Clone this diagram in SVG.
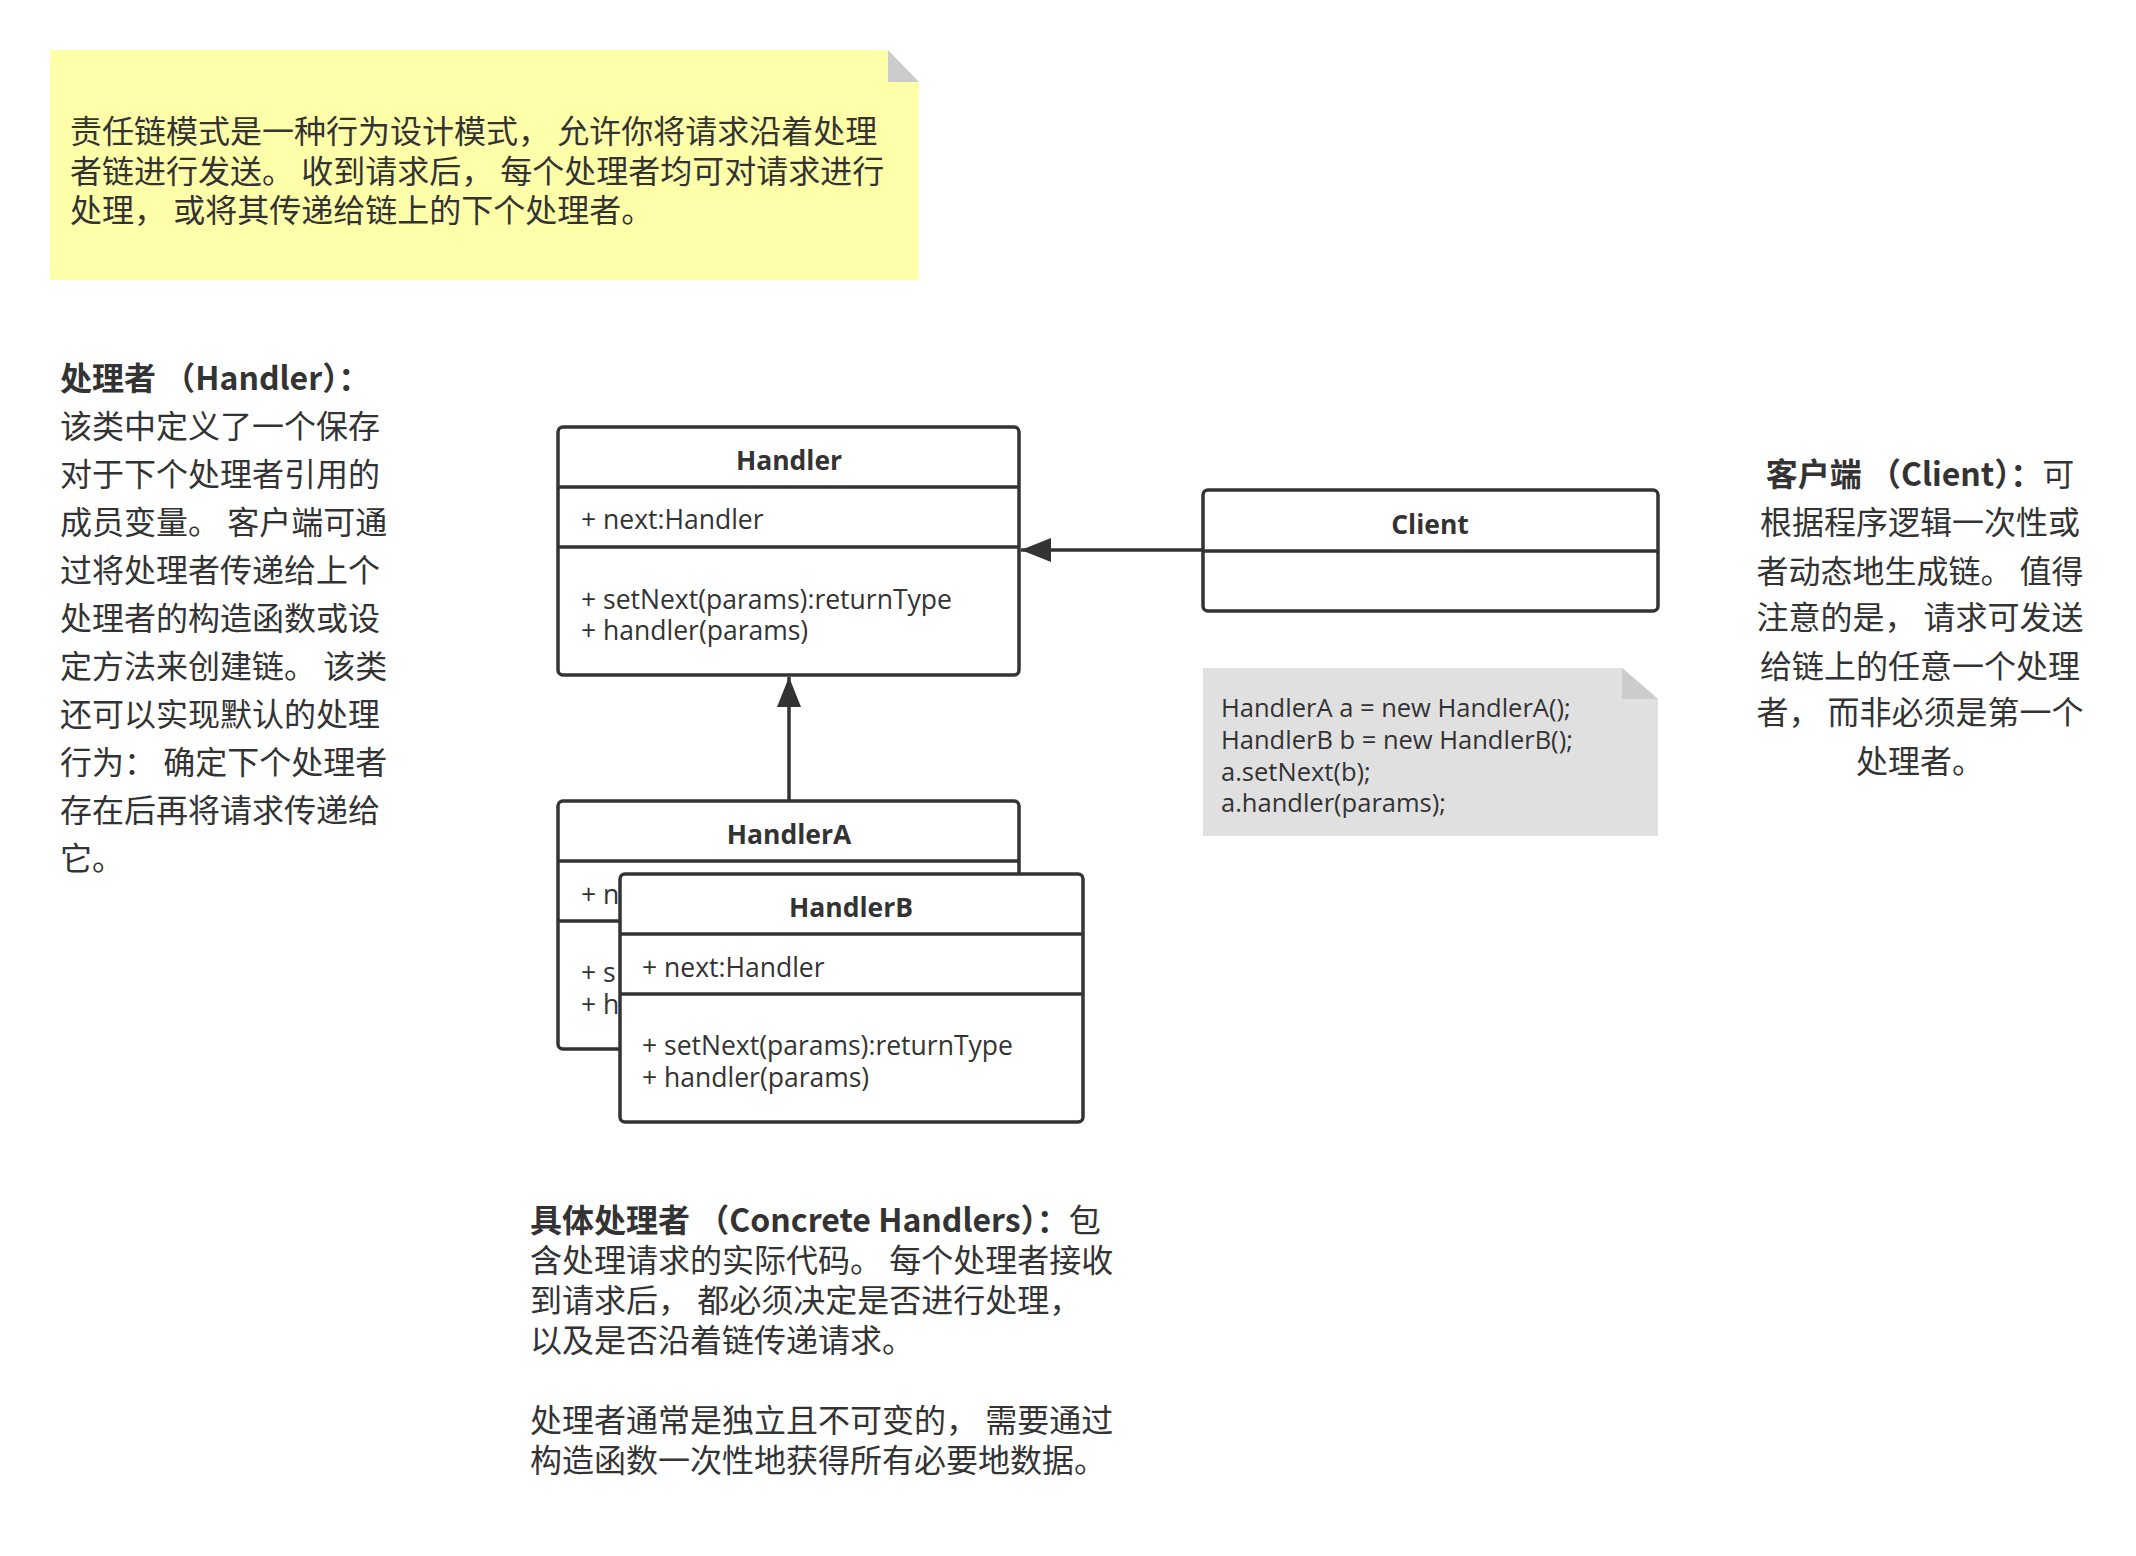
<svg xmlns="http://www.w3.org/2000/svg" width="2136" height="1556" viewBox="0 0 2136 1556">
<style>
.box{fill:#fff;stroke:#333;stroke-width:3.5}
.ln{stroke:#333;stroke-width:3.5;fill:none}
.t{font-family:"Open Sans","Noto Sans","Noto Sans CJK SC",sans-serif;fill:#333;font-size:26.5px}
.b{font-weight:bold}
.c{font-family:"Noto Sans CJK SC",sans-serif;fill:#333;font-size:32px}
.c30{font-family:"Noto Sans CJK SC",sans-serif;fill:#333;font-size:32px}
.code{font-family:"Open Sans","Noto Sans",sans-serif;fill:#333;font-size:25.5px}
</style>
<defs>
<marker id="ah" viewBox="0 0 30 24" refX="30" refY="12" markerWidth="30" markerHeight="24" markerUnits="userSpaceOnUse" orient="auto">
<path d="M0,0 L30,12 L0,24 Z" fill="#333"/>
</marker>
<clipPath id="clipA"><rect x="556" y="801" width="62" height="250"/></clipPath>
</defs>
<rect width="2136" height="1556" fill="#fff"/>
<g id="note">
<path d="M50,50 H888 L919,82 V280 H50 Z" fill="#ffffaa"/>
<path d="M888,50 L919,82 H888 Z" fill="#cccccc"/>
<text class="c30" x="70" y="143">责任链模式是一种行为设计模式， 允许你将请求沿着处理</text>
<text class="c30" x="70" y="183">者链进行发送。 收到请求后， 每个处理者均可对请求进行</text>
<text class="c30" x="70" y="222">处理， 或将其传递给链上的下个处理者。</text>
</g>
<g id="handler-desc" class="c">
<text x="60" y="390"><tspan font-weight="bold">处理者 （Handler）：</tspan></text>
<text x="60" y="438">该类中定义了一个保存</text>
<text x="60" y="486">对于下个处理者引用的</text>
<text x="60" y="534">成员变量。 客户端可通</text>
<text x="60" y="582">过将处理者传递给上个</text>
<text x="60" y="630">处理者的构造函数或设</text>
<text x="60" y="678">定方法来创建链。 该类</text>
<text x="60" y="726">还可以实现默认的处理</text>
<text x="60" y="774">行为： 确定下个处理者</text>
<text x="60" y="822">存在后再将请求传递给</text>
<text x="60" y="870">它。</text>
</g>
<g id="connectors">
<line class="ln" x1="1203" y1="550" x2="1021" y2="550" marker-end="url(#ah)"/>
<line class="ln" x1="789" y1="801" x2="789" y2="677" marker-end="url(#ah)"/>
</g>
<g id="Handler">
<rect class="box" x="558" y="427" width="461" height="248" rx="5"/>
<line class="ln" x1="558" y1="487" x2="1019" y2="487"/>
<line class="ln" x1="558" y1="547" x2="1019" y2="547"/>
<text class="t b" x="789" y="470" text-anchor="middle">Handler</text>
<text class="t" x="581" y="529">+ next:Handler</text>
<text class="t" x="581" y="609">+ setNext(params):returnType</text>
<text class="t" x="581" y="640">+ handler(params)</text>
</g>
<g id="Client">
<rect class="box" x="1203" y="490" width="455" height="121" rx="5"/>
<line class="ln" x1="1203" y1="551" x2="1658" y2="551"/>
<text class="t b" x="1430" y="534" text-anchor="middle">Client</text>
</g>
<g id="code-note">
<path d="M1203,668 H1622 L1658,699 V836 H1203 Z" fill="#e0e0e0"/>
<path d="M1622,668 L1658,699 H1622 Z" fill="#cccccc"/>
<text class="code" x="1221" y="717">HandlerA a = new HandlerA();</text>
<text class="code" x="1221" y="749">HandlerB b = new HandlerB();</text>
<text class="code" x="1221" y="781">a.setNext(b);</text>
<text class="code" x="1221" y="812">a.handler(params);</text>
</g>
<g id="client-desc" class="c" text-anchor="middle">
<text x="1920" y="486"><tspan font-weight="bold">客户端 （Client）：</tspan>可</text>
<text x="1920" y="534">根据程序逻辑一次性或</text>
<text x="1920" y="583">者动态地生成链。 值得</text>
<text x="1920" y="629">注意的是， 请求可发送</text>
<text x="1920" y="678">给链上的任意一个处理</text>
<text x="1920" y="724">者， 而非必须是第一个</text>
<text x="1920" y="773">处理者。</text>
</g>
<g id="HandlerA">
<rect class="box" x="558" y="801" width="461" height="248" rx="5"/>
<line class="ln" x1="558" y1="861" x2="1019" y2="861"/>
<line class="ln" x1="558" y1="921" x2="1019" y2="921"/>
<text class="t b" x="789" y="844" text-anchor="middle">HandlerA</text>
<g clip-path="url(#clipA)">
<text class="t" x="581" y="904">+ n</text>
<text class="t" x="581" y="982">+ s</text>
<text class="t" x="581" y="1014">+ h</text>
</g>
</g>
<g id="HandlerB">
<rect class="box" x="620" y="874" width="463" height="248" rx="5"/>
<line class="ln" x1="620" y1="934" x2="1083" y2="934"/>
<line class="ln" x1="620" y1="994" x2="1083" y2="994"/>
<text class="t b" x="851" y="917" text-anchor="middle">HandlerB</text>
<text class="t" x="642" y="977">+ next:Handler</text>
<text class="t" x="642" y="1055">+ setNext(params):returnType</text>
<text class="t" x="642" y="1087">+ handler(params)</text>
</g>
<g id="concrete-desc" class="c30">
<text x="530" y="1232"><tspan font-weight="bold">具体处理者 （Concrete Handlers）：</tspan>包</text>
<text x="530" y="1272">含处理请求的实际代码。 每个处理者接收</text>
<text x="530" y="1312">到请求后， 都必须决定是否进行处理，</text>
<text x="530" y="1352">以及是否沿着链传递请求。</text>
<text x="530" y="1432">处理者通常是独立且不可变的， 需要通过</text>
<text x="530" y="1472">构造函数一次性地获得所有必要地数据。</text>
</g>
</svg>
